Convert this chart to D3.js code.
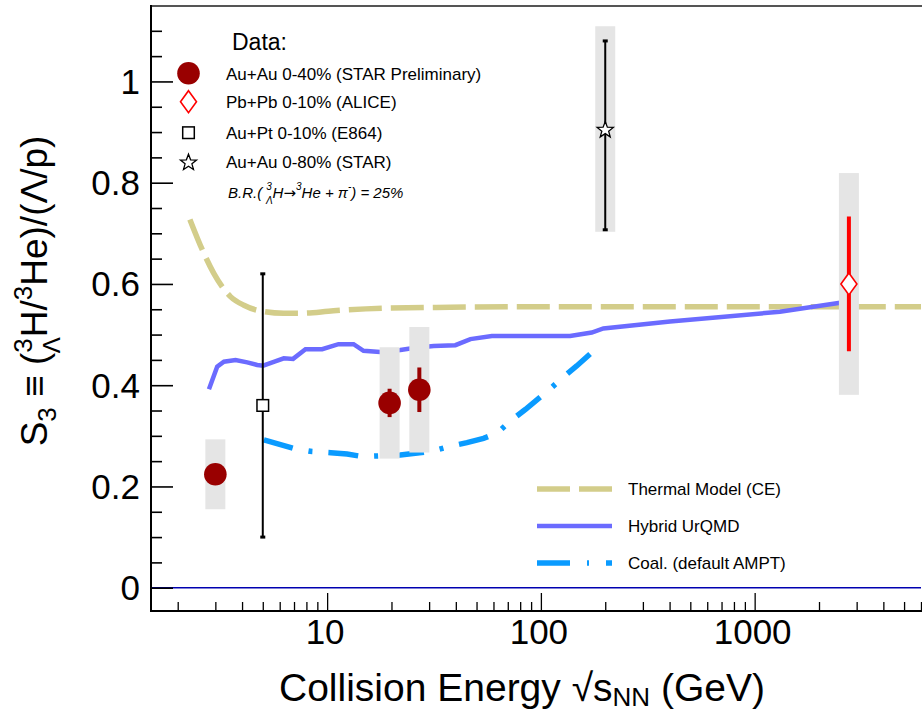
<!DOCTYPE html>
<html><head><meta charset="utf-8">
<script src="https://cdn.jsdelivr.net/npm/d3@7"></script>
<style>
html,body{margin:0;padding:0;background:#fff;}
svg{display:block;font-family:"Liberation Sans",Arial,Helvetica,sans-serif;}
</style></head>
<body>
<svg id="chart" width="922" height="715" font-family="Liberation Sans, Arial, Helvetica, sans-serif"></svg>
<script>
// ---------------- data ----------------
// STAR preliminary Au+Au 0-40%
const starPrelimE   = [3, 19.6, 27];
const starPrelimS3  = [0.224, 0.365, 0.391];
const starPrelimStat= [0.012, 0.028, 0.044];
const starPrelimSys = [0.069, 0.110, 0.124];
// ALICE Pb+Pb 0-10%
const aliceE    = [2760];
const aliceS3   = [0.600];
const aliceStat = [0.133];
const aliceSys  = [0.219];
// E864 Au+Pt 0-10%
const e864E    = [5.0];
const e864S3   = [0.36];
const e864Stat = [0.26];
// STAR Au+Au 0-80%
const star80E      = [200];
const star80S3     = [0.906];
const star80StatLo = [0.199];
const star80StatHi = [0.174];
const star80Sys    = [0.203];
// Thermal model (CE)
const thermalE  = [2.28, 2.61, 2.95, 3.53, 4.08, 4.71, 6.27, 7.5, 10.7, 18.4, 37.7, 100, 1000, 6000];
const thermalS3 = [0.7275, 0.667, 0.621, 0.575, 0.558, 0.548, 0.542, 0.542, 0.547, 0.552, 0.554, 0.555, 0.555, 0.555];
// Hybrid UrQMD
const urqmdE  = [2.80, 3.06, 3.29, 3.73, 4.23, 4.71, 5.02, 5.63, 6.27, 6.93, 7.92, 9.48, 11.3, 13.3, 14.8, 17.7, 22.0, 25.4, 31.5, 39.8, 46.8, 59.0, 137, 173, 196, 402, 1312, 2700];
const urqmdS3 = [0.392, 0.4365, 0.4464, 0.4497, 0.445, 0.440, 0.4385, 0.446, 0.453, 0.452, 0.471, 0.471, 0.481, 0.481, 0.468, 0.4655, 0.4695, 0.4735, 0.4775, 0.479, 0.491, 0.497, 0.497, 0.504, 0.512, 0.526, 0.545, 0.565];
// Coalescence (default AMPT)
const coalE  = [5.06, 6.98, 8.51, 10.4, 12.4, 14.6, 22.0, 30.4, 37.0, 45.1, 53.9, 62.3, 71.9, 84.5, 109, 128, 147, 191];
const coalS3 = [0.292, 0.275, 0.269, 0.2667, 0.264, 0.259, 0.262, 0.269, 0.2785, 0.2865, 0.295, 0.305, 0.329, 0.352, 0.3905, 0.417, 0.438, 0.481];
// axes
const xMajorTicks  = [10, 100, 1000];
const xMajorLabels = ["10", "100", "1000"];
const yMajorTicks  = [0, 0.2, 0.4, 0.6, 0.8, 1.0];
const yMajorLabels = ["0", "0.2", "0.4", "0.6", "0.8", "1"];
const dataLegendLabels = ["Au+Au 0-40% (STAR Preliminary)", "Pb+Pb 0-10% (ALICE)", "Au+Pt 0-10% (E864)", "Au+Au 0-80% (STAR)"];
const modelLegendLabels = ["Thermal Model (CE)", "Hybrid UrQMD", "Coal. (default AMPT)"];

// ---------------- layout ----------------
const svg = d3.select("#chart");
const L = 151, R = 921, T = 6, B = 611;
const x = d3.scaleLog().domain([1.5, 6000]).range([L, R]);
const y = d3.scaleLinear().domain([-0.046, 1.149]).range([B, T]);

const cThermal = "#d3cd8a", cUrqmd = "#6b6bff", cCoal = "#0a9bff";
const cStar = "#990000", cAlice = "#ff0000", cBox = "#e5e5e5";

svg.append("defs").append("clipPath").attr("id","clip")
  .append("rect").attr("x",L).attr("y",T).attr("width",R-L).attr("height",B-T);

// zero line
svg.append("line").attr("x1",L).attr("x2",R).attr("y1",y(0)).attr("y2",y(0))
  .attr("stroke","#0000b0").attr("stroke-width",1.5);

// ---------------- curves ----------------
const gC = svg.append("g").attr("clip-path","url(#clip)");
function curve(E, V, color, w, dash, cf) {
  const pts = E.map((e,i)=>[e,V[i]]);
  const ln = d3.line().x(d=>x(d[0])).y(d=>y(d[1])).curve(cf||d3.curveLinear);
  const p = gC.append("path").attr("d", ln(pts)).attr("fill","none")
    .attr("stroke",color).attr("stroke-width",w);
  if (dash) p.attr("stroke-dasharray",dash);
}
curve(thermalE, thermalS3, cThermal, 5.5, "33,9", d3.curveMonotoneX);
curve(urqmdE, urqmdS3, cUrqmd, 4.5, null);
curve(coalE, coalS3, cCoal, 5.5, "30,16,4,16");

// ---------------- systematic boxes ----------------
const gD = svg.append("g");
const boxW = 20;
function sysBox(E, V, S) {
  E.forEach((e,i)=>{
    gD.append("rect").attr("x", x(e)-boxW/2).attr("width", boxW)
      .attr("y", y(V[i]+S[i])).attr("height", y(V[i]-S[i]) - y(V[i]+S[i]))
      .attr("fill", cBox);
  });
}
sysBox(starPrelimE, starPrelimS3, starPrelimSys);
sysBox(aliceE, aliceS3, aliceSys);
sysBox(star80E, star80S3, star80Sys);

// ---------------- stat error bars ----------------
function errBar(e, v, lo, hi, color, w, cap) {
  gD.append("line").attr("x1",x(e)).attr("x2",x(e)).attr("y1",y(v-lo)).attr("y2",y(v+hi))
    .attr("stroke",color).attr("stroke-width",w);
  if (cap) {
    [v-lo, v+hi].forEach(vv=>{
      gD.append("rect").attr("x",x(e)-2.5).attr("y",y(vv)-1.5).attr("width",5).attr("height",3).attr("fill",color);
    });
  }
}
starPrelimE.forEach((e,i)=>errBar(e, starPrelimS3[i], starPrelimStat[i], starPrelimStat[i], cStar, 4, false));
aliceE.forEach((e,i)=>errBar(e, aliceS3[i], aliceStat[i], aliceStat[i], cAlice, 4, false));
e864E.forEach((e,i)=>errBar(e, e864S3[i], e864Stat[i], e864Stat[i], "#000", 2, true));
star80E.forEach((e,i)=>errBar(e, star80S3[i], star80StatLo[i], star80StatHi[i], "#000", 2, true));

// ---------------- markers ----------------
function starPath(ro, ri) {
  const p = [];
  for (let k=0;k<10;k++){
    const a = -Math.PI/2 + k*Math.PI/5;
    const r = k%2===0 ? ro : ri;
    p.push([r*Math.cos(a), r*Math.sin(a)]);
  }
  return "M" + p.map(d=>d[0].toFixed(2)+","+d[1].toFixed(2)).join("L") + "Z";
}
function mCircle(g, cx, cy){ g.append("circle").attr("cx",cx).attr("cy",cy).attr("r",11.3).attr("fill",cStar); }
function mDiamond(g, cx, cy){ g.append("path").attr("d",`M${cx},${cy-11}L${cx+8},${cy}L${cx},${cy+11}L${cx-8},${cy}Z`)
  .attr("fill","#fff").attr("stroke",cAlice).attr("stroke-width",1.6); }
function mSquare(g, cx, cy){ g.append("rect").attr("x",cx-5.8).attr("y",cy-5.8).attr("width",11.6).attr("height",11.6)
  .attr("fill","#fff").attr("stroke","#000").attr("stroke-width",1.5); }
function mStar(g, cx, cy){ g.append("path").attr("d",starPath(8.5,3.6)).attr("transform",`translate(${cx},${cy+1})`)
  .attr("fill","#fff").attr("stroke","#000").attr("stroke-width",1.3); }

starPrelimE.forEach((e,i)=>mCircle(gD, x(e), y(starPrelimS3[i])));
aliceE.forEach((e,i)=>mDiamond(gD, x(e), y(aliceS3[i])));
e864E.forEach((e,i)=>mSquare(gD, x(e), y(e864S3[i])));
star80E.forEach((e,i)=>mStar(gD, x(e), y(star80S3[i])));

// ---------------- axes ----------------
const xMinor = [];
[1,10,100,1000].forEach(d=>{ for(let k=2;k<=9;k++){ const v=k*d; if (v>=1.5 && v<=6000) xMinor.push(v);} });
const yMinor = d3.range(0, 23).map(k=>+(k*0.05).toFixed(2)).filter(v=>!yMajorTicks.some(m=>Math.abs(m-v)<1e-6) && v<=1.149);

const gx = svg.append("g").attr("transform",`translate(0,${B})`);
gx.call(d3.axisBottom(x).tickValues(xMajorTicks).tickSize(-18).tickFormat(""));
const gx2 = svg.append("g").attr("transform",`translate(0,${B})`);
gx2.call(d3.axisBottom(x).tickValues(xMinor).tickSize(-9).tickFormat(""));
[gx,gx2].forEach(g=>{ g.select(".domain").remove(); g.selectAll("line").attr("stroke","#000").attr("stroke-width",1.3); });

const gy = svg.append("g").attr("transform",`translate(${L},0)`);
gy.call(d3.axisLeft(y).tickValues(yMajorTicks).tickSize(-22).tickFormat(""));
const gy2 = svg.append("g").attr("transform",`translate(${L},0)`);
gy2.call(d3.axisLeft(y).tickValues(yMinor).tickSize(-11).tickFormat(""));
[gy,gy2].forEach(g=>{ g.select(".domain").remove(); g.selectAll("line").attr("stroke","#000").attr("stroke-width",1.6); });

// frame
svg.append("line").attr("x1",L).attr("x2",922).attr("y1",T).attr("y2",T).attr("stroke","#555").attr("stroke-width",2);
svg.append("line").attr("x1",L).attr("x2",L).attr("y1",T-1).attr("y2",B+1).attr("stroke","#000").attr("stroke-width",2);
svg.append("line").attr("x1",L).attr("x2",922).attr("y1",B).attr("y2",B).attr("stroke","#000").attr("stroke-width",2);

// tick labels
svg.append("g").selectAll("text").data(xMajorTicks).join("text")
  .attr("x",d=>x(d)-2).attr("y",644).attr("text-anchor","middle")
  .attr("font-size",35).attr("fill","#000").text((d,i)=>xMajorLabels[i]);
svg.append("g").selectAll("text").data(yMajorTicks).join("text")
  .attr("x",140).attr("y",d=>y(d)+12.5).attr("text-anchor","end")
  .attr("font-size",35).attr("fill","#000").text((d,i)=>yMajorLabels[i]);

// x title
const xt = svg.append("text").attr("x",522).attr("y",701).attr("text-anchor","middle")
  .attr("font-size",39).attr("fill","#000");
xt.append("tspan").text("Collision Energy ");
xt.append("tspan").text("\u221A");
xt.append("tspan").text("s");
xt.append("tspan").attr("font-size",26).attr("dy",5).text("NN");
xt.append("tspan").attr("dy",-5).text(" (GeV)");

// y title
const yt = svg.append("text").attr("transform","translate(47,291) rotate(-90)")
  .attr("text-anchor","middle").attr("font-size",37).attr("fill","#000");
yt.append("tspan").text("S");
yt.append("tspan").attr("font-size",26).attr("dy",9).text("3");
yt.append("tspan").attr("dy",-9).text(" \u2261 (");
yt.append("tspan").attr("font-size",26).attr("dy",-15).text("3");
yt.append("tspan").attr("font-size",24).attr("dx",-15).attr("dy",28).text("\u039B");
yt.append("tspan").attr("dy",-13).text("H/");
yt.append("tspan").attr("font-size",26).attr("dy",-15).text("3");
yt.append("tspan").attr("dy",15).text("He)/(\u039B/p)");

// ---------------- data legend ----------------
const lg = svg.append("g");
lg.append("text").attr("x",232).attr("y",50).attr("font-size",23).attr("fill","#000").text("Data:");
const rowY = [73.3, 101.7, 132.7, 161.7];
const markerFns = [mCircle, mDiamond, mSquare, mStar];
dataLegendLabels.forEach((t,i)=>{
  markerFns[i](lg, 188.5, rowY[i]);
  lg.append("text").attr("x",226).attr("y",rowY[i]+6.2).attr("font-size",17).attr("fill","#000").text(t);
});
const br = lg.append("text").attr("x",228).attr("y",198).attr("font-size",15).attr("font-style","italic").attr("fill","#000");
br.append("tspan").text("B.R.( ");
br.append("tspan").attr("font-size",10).attr("dy",-8).text("3");
br.append("tspan").attr("font-size",10).attr("dx",-6).attr("dy",14).text("\u039B");
br.append("tspan").attr("dy",-6).text("H");
br.append("tspan").attr("font-family","DejaVu Sans").attr("font-style","normal").attr("font-size",15).text("\u2192");
br.append("tspan").attr("font-size",10).attr("dy",-8).text("3");
br.append("tspan").attr("dy",8).text("He + \u03C0");
br.append("tspan").attr("font-size",10).attr("dy",-8).text("-");
br.append("tspan").attr("dy",8).text(") = 25%");

// ---------------- model legend ----------------
const ml = svg.append("g");
const mlY = [489, 526, 563];
const mlStyles = [[cThermal,5.5,"33,9"],[cUrqmd,4.5,null],[cCoal,5.5,"33,17,2,17"]];
modelLegendLabels.forEach((t,i)=>{
  const ln = ml.append("line").attr("x1",537).attr("x2",612).attr("y1",mlY[i]).attr("y2",mlY[i])
    .attr("stroke",mlStyles[i][0]).attr("stroke-width",mlStyles[i][1]);
  if (mlStyles[i][2]) ln.attr("stroke-dasharray",mlStyles[i][2]);
  ml.append("text").attr("x",628).attr("y",mlY[i]+6.2).attr("font-size",17).attr("fill","#000").text(t);
});
</script>
</body></html>
